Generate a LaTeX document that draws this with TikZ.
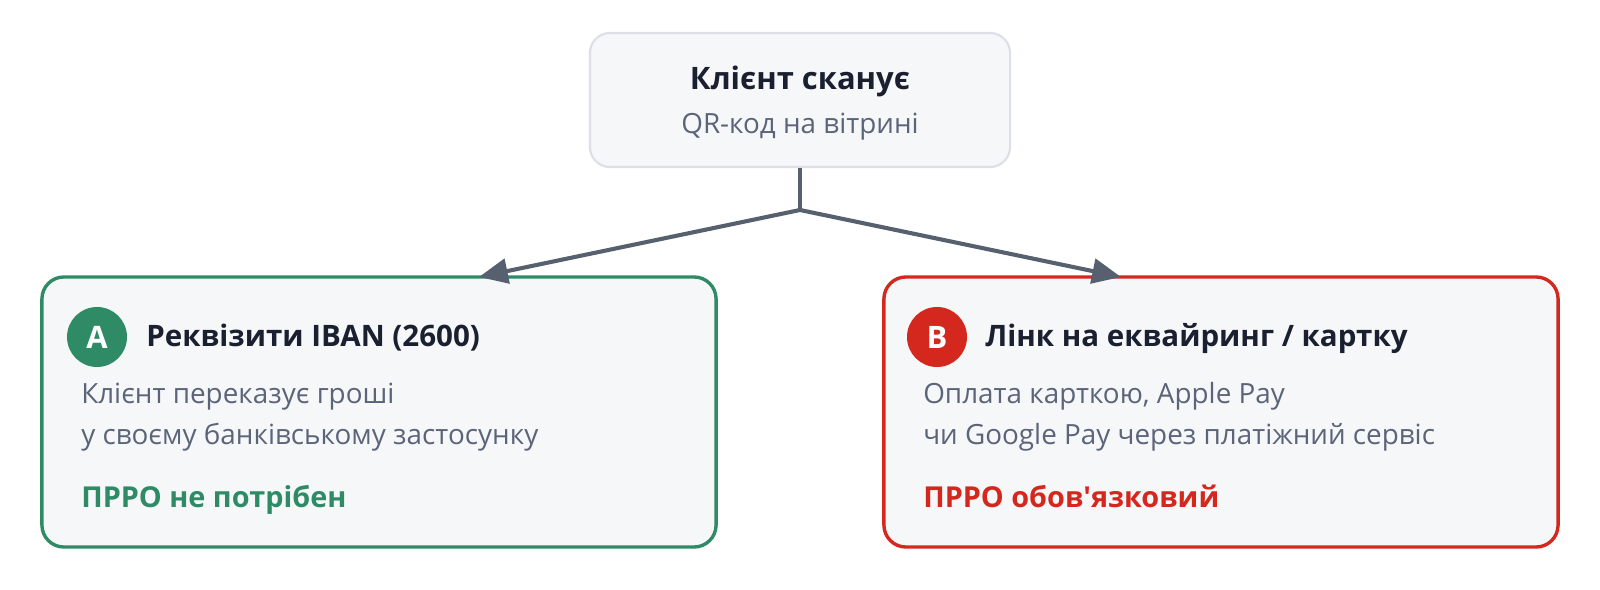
\documentclass[tikz,border=0pt]{standalone}
\usepackage{fontspec}
\setmainfont{Open Sans}[Ligatures=TeXOff]
\usetikzlibrary{positioning, arrows.meta}
\definecolor{cardfill}{HTML}{F6F7F9}
\definecolor{topedge}{HTML}{DCDFE5}
\definecolor{wire}{HTML}{56606F}
\definecolor{ink}{HTML}{1A2030}
\definecolor{muted}{HTML}{5B6478}
\definecolor{okgreen}{HTML}{2E8B65}
\definecolor{badred}{HTML}{D4271D}
\tikzset{
block/.style={
  draw,
  rectangle,
  fill=cardfill,
  rounded corners=0.55cm,
  minimum height=6.75cm,
  minimum width=16.85cm,
  line width=2.4pt
  },
badge/.style={circle, minimum size=1.5cm, inner sep=0, text=white,
  font=\bfseries\fontsize{22}{26}\selectfont},
head/.style={inner sep=0, text=ink, font=\bfseries\fontsize{21}{25}\selectfont},
body/.style={inner sep=0, text=muted, anchor=base west, font=\fontsize{19.8}{24}\selectfont},
verdict/.style={inner sep=0, anchor=base west, font=\bfseries\fontsize{20.5}{25}\selectfont},
link/.style={draw=wire, line width=2.9pt},
line/.style={link, -{Triangle[length=0.72cm, width=0.62cm]}}
}
\begin{document}
\begin{tikzpicture}[x=0.025cm, y=-0.025cm]
\useasboundingbox (0,0) rectangle (1600,590);
% top
\node[block, draw=topedge, line width=1.5pt, rounded corners=0.5cm,
  minimum width=10.5cm, minimum height=3.35cm] (scan) at (800,100) {};
\node[head, anchor=base, font=\bfseries\fontsize{22}{26}\selectfont] (scantitle) at (800,90) {Клієнт сканує};
\node[body, anchor=base] (scansub) at (800,134) {QR-код на вітрині};
% two cards
\node[block, draw=okgreen] (iban) at (379,412) {};
\node[block, draw=badred] (acq) at (1221,412) {};
\coordinate (split) at (800,210);
\coordinate (ibantip) at (479,277);
\coordinate (acqtip) at (1121,277);
\draw[link] (scan) -- (split);
\draw[line] (split) -- (ibantip);
\draw[line] (split) -- (acqtip);
% card A
\node[badge, fill=okgreen] (badgeA) at (97,337) {A};
\node[head, anchor=base west] (ibantitle) at (146,347) {Реквізити IBAN (2600)};
\node[body] (ibanl1) at (81,404) {Клієнт переказує гроші};
\node[body] (ibanl2) at (81,445) {у своєму банківському застосунку};
\node[verdict, text=okgreen] (ibanno) at (81,507) {ПРРО не потрібен};
% card B
\node[badge, fill=badred] (badgeB) at (937,337) {B};
\node[head, anchor=base west] (acqtitle) at (985,347) {Лінк на еквайринг / картку};
\node[body] (acql1) at (923,404) {Оплата карткою, Apple Pay};
\node[body] (acql2) at (923,445) {чи Google Pay через платіжний сервіс};
\node[verdict, text=badred] (acqyes) at (923,507) {ПРРО обов'язковий};
\end{tikzpicture}
\end{document}
